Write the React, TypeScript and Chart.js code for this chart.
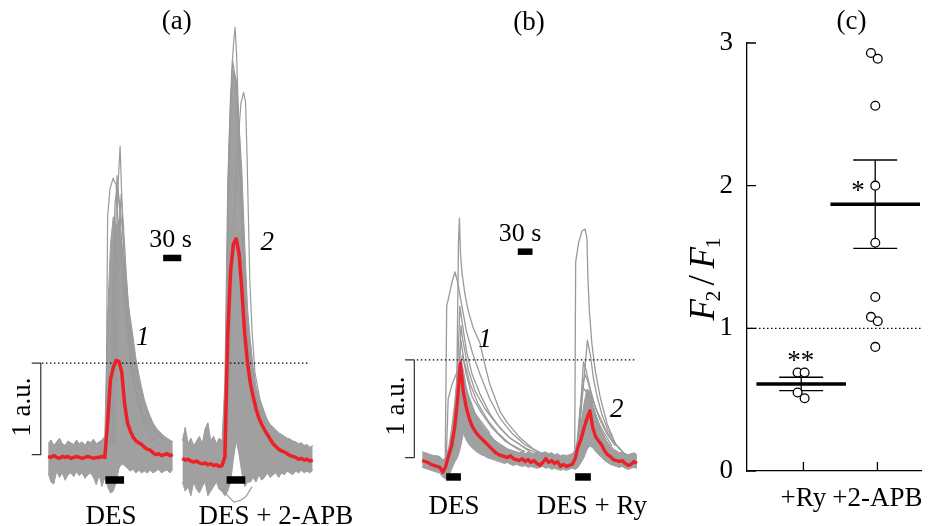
import { useEffect, useRef } from 'react';
import { Chart, registerables } from 'chart.js';

Chart.register(...registerables);

const SERIF = "'Liberation Serif', 'Times New Roman', serif";
const GRAY = '#9a9a9a';
const GRAY_FILL = '#a0a0a0';
const RED = '#ec2027';

// ---------------- Panel (a): time in s, signal in a.u. ----------------
const A_DT = 5;
const A1_T0 = 85;
const A2_T0 = 322;
const A1_RED = [-0.02, -0.03, -0.01, -0.03, -0.04, -0.02, -0.03, -0.02, -0.04, -0.03, -0.02, -0.03, -0.04, -0.03, -0.02, -0.03, -0.04, -0.03, -0.03, -0.02, -0.03,
  0.35, 0.82, 0.95, 1.03, 1.02, 0.9, 0.55, 0.35, 0.26, 0.19, 0.15, 0.13, 0.11, 0.08, 0.06, 0.05, 0.02, 0.0, 0.01, -0.01, 0.0, 0.01, -0.01, 0.0];
const A1_UP = [0.12, 0.16, 0.1, 0.14, 0.18, 0.12, 0.1, 0.15, 0.13, 0.11, 0.16, 0.12, 0.14, 0.1, 0.15, 0.13, 0.17, 0.12, 0.14, 0.16, 0.2,
  1.5, 2.3, 2.6, 2.5, 2.55, 2.3, 2.0, 1.7, 1.5, 1.28, 1.05, 0.88, 0.73, 0.6, 0.5, 0.42, 0.35, 0.3, 0.26, 0.23, 0.2, 0.18, 0.16, 0.14];
const A1_LO = [-0.2, -0.3, -0.32, -0.18, -0.25, -0.2, -0.28, -0.22, -0.2, -0.24, -0.19, -0.23, -0.2, -0.26, -0.22, -0.2, -0.25, -0.33, -0.22, -0.35, -0.25,
  -0.35, -0.42, -0.4, -0.3, -0.15, -0.1, -0.12, -0.15, -0.18, -0.16, -0.2, -0.17, -0.2, -0.18, -0.2, -0.17, -0.2, -0.18, -0.16, -0.2, -0.18, -0.17, -0.2, -0.16];
const A2_RED = [-0.04, -0.06, -0.05, -0.07, -0.08, -0.07, -0.09, -0.1, -0.09, -0.11, -0.1, -0.12, -0.11, -0.13, -0.12,
  -0.02, 1.3, 2.0, 2.3, 2.36, 2.2, 1.8, 1.32, 1.0, 0.78, 0.63, 0.5, 0.4, 0.33, 0.27, 0.22, 0.17, 0.12, 0.09, 0.06, 0.04, 0.03, 0.01, -0.01, -0.02, -0.03, -0.05, -0.04, -0.06, -0.05, -0.07, -0.06];
const A2_UP = [0.15, 0.3, 0.12, 0.18, 0.1, 0.15, 0.2, 0.12, 0.28, 0.35, 0.15, 0.2, 0.12, 0.18, 0.15,
  0.8, 3.0, 3.95, 4.2, 4.1, 3.6, 3.1, 2.3, 1.6, 1.25, 0.95, 0.75, 0.62, 0.53, 0.45, 0.38, 0.33, 0.3, 0.27, 0.24, 0.22, 0.2, 0.18, 0.17, 0.15, 0.14, 0.12, 0.13, 0.1, 0.11, 0.08, 0.1];
const A2_LO = [-0.3, -0.4, -0.35, -0.45, -0.3, -0.38, -0.42, -0.35, -0.3, -0.45, -0.4, -0.35, -0.3, -0.38, -0.4,
  -0.45, -0.4, -0.3, -0.05, 0.15, 0.0, -0.2, -0.35, -0.3, -0.3, -0.25, -0.3, -0.22, -0.28, -0.25, -0.2, -0.25, -0.22, -0.2, -0.25, -0.2, -0.22, -0.18, -0.2, -0.22, -0.18, -0.2, -0.17, -0.2, -0.18, -0.2, -0.17];
const A_SPIKES = [
  [[200, 0.1], [205, 2.0], [208, 2.9], [212, 3.37], [214.5, 2.9], [217, 2.4], [222, 1.8], [229.5, 1.2], [238, 0.75], [251, 0.4], [265, 0.2], [282, 0.1]],
  [[187, 0.1], [190, 2.6], [194, 2.9], [199.5, 3.02], [205, 2.95], [208, 2.6], [213.5, 2.2], [221, 1.6], [229.5, 1.0], [242, 0.6], [256, 0.35]],
  [[198, 0.1], [201, 1.6], [206.5, 3.05], [210, 2.8], [215.5, 2.5], [222, 2.0], [228, 1.5], [235, 1.1], [244, 0.8], [256, 0.5], [274, 0.25], [291, 0.15]],
  [[195, 0.1], [199, 1.8], [203, 2.75], [207, 2.95], [211, 2.7], [216, 2.2], [221, 1.7], [227, 1.25], [236, 0.8], [248, 0.45]],
  [[203, 0.1], [207, 1.4], [211, 2.55], [214, 2.85], [218, 2.5], [223, 1.95], [230, 1.35], [240, 0.85], [252, 0.45], [268, 0.25]],
  [[395, -0.1], [401, 2.0], [404, 3.3], [409, 4.2], [413, 4.55], [415, 4.67], [417.5, 4.4], [420, 3.9], [424, 3.3], [429, 2.4], [434, 1.6], [441, 1.05], [452, 0.6], [468, 0.33]],
  [[401, -0.1], [406, 1.2], [413, 2.6], [420, 3.4], [425.5, 3.85], [430, 3.96], [433.5, 3.85], [436, 3.3], [438.5, 2.6], [441, 1.9], [445, 1.35], [450, 0.9], [459, 0.6], [473, 0.35]],
  [[397, -0.1], [402.5, 2.5], [408, 3.9], [411, 4.3], [416, 4.1], [420, 3.5], [425.5, 2.8], [431, 2.0], [438, 1.3], [447, 0.85]],
  [[392, -0.38], [402.5, -0.45], [413, -0.52], [424, -0.5], [434, -0.46], [445, -0.35]],
];
const A_DES = [[186, 219], [400, 433]];
const A_SCALEBAR = [288, 320];
const A_DOTTED = [74, 544];
const A_BRACKET = [[56, 1], [72, 1], [72, 0], [56, 0]];

// ---------------- Panel (b) ----------------
const B_DT = 6;
const B_T0 = 86;
const B_RED = [-0.03, -0.04, -0.05, -0.07, -0.08, -0.09, -0.1, -0.15, -0.09, 0.02,
  0.12, 0.3, 0.58, 0.97, 0.67, 0.51, 0.4, 0.32, 0.27, 0.23,
  0.2, 0.17, 0.14, 0.11, 0.08, 0.05, 0.03, 0.02, 0.01, 0.0,
  0.02, -0.01, -0.02, -0.03, -0.01, -0.04, -0.02, -0.05, -0.03, -0.06,
  -0.08, -0.05, -0.01, -0.05, -0.03, -0.06, -0.04, -0.09, -0.07, -0.09,
  -0.08, -0.07, -0.01, 0.11, 0.19, 0.3, 0.4, 0.48, 0.3, 0.21,
  0.17, 0.13, 0.07, 0.03, 0.01, -0.02, -0.03, -0.04, -0.03, -0.06,
  -0.08, -0.07, -0.04, -0.06];
const B_UP = [0.06, 0.05, 0.04, 0.03, 0.02, 0.02, 0.01, -0.02, 0.0,
  0.1, 0.3, 0.55, 0.85, 1.0, 0.9, 0.72, 0.6, 0.52, 0.46, 0.4, 0.35, 0.31, 0.27, 0.24, 0.2, 0.17, 0.15, 0.13, 0.11, 0.09, 0.08, 0.07,
  0.06, 0.05, 0.07, 0.04, 0.06, 0.05, 0.04, 0.06, 0.03, 0.05, 0.06, 0.04, 0.05, 0.03, 0.04, 0.02, 0.03, 0.02, 0.03, 0.04,
  0.08, 0.2, 0.35, 0.55, 0.7, 0.68, 0.55, 0.45, 0.36, 0.28, 0.21, 0.16, 0.12, 0.09, 0.07, 0.05, 0.06, 0.04, 0.03, 0.04, 0.05, 0.03];
const B_LO = [-0.1, -0.11, -0.12, -0.13, -0.14, -0.15, -0.16, -0.2, -0.22,
  -0.2, -0.12, -0.05, 0.0, 0.1, 0.25, 0.18, 0.13, 0.1, 0.07, 0.05, 0.03, 0.02, 0.0, -0.01, -0.02, -0.03, -0.04,
  -0.05, -0.06, -0.05, -0.07, -0.08, -0.07, -0.08, -0.09, -0.08, -0.1, -0.09, -0.1, -0.11, -0.1, -0.09, -0.11, -0.1, -0.12, -0.11, -0.12, -0.13, -0.12, -0.13, -0.12, -0.11,
  -0.12, -0.1, -0.05, 0.0, 0.08, 0.12, 0.1, 0.06, 0.03, 0.0, -0.03, -0.05, -0.07, -0.08, -0.09, -0.1, -0.09, -0.11, -0.12, -0.11, -0.1, -0.11];
const B_TRACES = [
  [[133, -0.05], [136, 1.55], [141, 1.66], [147, 1.8], [153, 1.9], [159, 1.78], [167, 1.55], [176, 1.3], [188, 1.08], [204, 0.85], [224, 0.6], [245, 0.4], [269, 0.25], [296, 0.13], [327, 0.05], [357, 0.0]],
  [[153, 0.2], [157, 0.9], [160, 2.2], [162, 2.45], [164, 2.1], [167, 1.9], [173, 1.68], [180, 1.5], [190, 1.33], [204, 1.17], [214, 0.95], [224, 0.75], [245, 0.47], [259, 0.36], [286, 0.2], [312, 0.09], [337, 0.02]],
  [[149, 0.1], [159, 1.0], [163, 1.55], [167, 1.4], [176, 1.1], [188, 0.85], [204, 0.65], [224, 0.45], [245, 0.3], [265, 0.2], [296, 0.1], [327, 0.03]],
  [[153, 0.2], [161, 0.9], [165, 1.2], [171, 1.0], [184, 0.75], [200, 0.55], [220, 0.38], [241, 0.25], [265, 0.14], [296, 0.06]],
  [[157, 0.3], [163, 0.8], [168, 1.05], [176, 0.85], [188, 0.62], [208, 0.45], [229, 0.3], [255, 0.17], [286, 0.07]],
  [[159, 0.4], [165, 1.35], [169, 1.2], [180, 0.9], [194, 0.68], [214, 0.5], [235, 0.36], [265, 0.2], [306, 0.06]],
  [[135, -0.05], [139, 0.6], [147, 0.75], [155, 0.85], [163, 0.95], [176, 0.7], [194, 0.45], [224, 0.25]],
  [[397, -0.05], [399, 2.0], [405, 2.2], [412, 2.32], [418, 2.34], [422, 2.25], [424, 1.84], [427, 1.5], [432, 1.17], [439, 0.89], [449, 0.62], [463, 0.35], [480, 0.14], [500, 0.03]],
  [[404, 0.1], [414, 0.7], [423, 1.2], [429, 1.05], [435, 0.82], [443, 0.62], [452, 0.45], [465, 0.28], [482, 0.13], [500, 0.03]],
  [[402, 0.1], [410, 0.6], [415, 0.98], [420, 0.9], [429, 0.7], [439, 0.52], [449, 0.38], [463, 0.24], [480, 0.12]],
  [[404, 0.15], [412, 0.7], [418, 0.85], [424, 0.78], [433, 0.6], [445, 0.45], [459, 0.3], [473, 0.18], [490, 0.08]],
  [[401, 0.1], [408, 0.5], [414, 0.72], [422, 0.66], [433, 0.5], [443, 0.38], [457, 0.25], [473, 0.12]],
];
const B_DES = [[135, 165], [398, 430]];
const B_SCALEBAR = [281, 311];
const B_DOTTED = [75, 523];
const B_BRACKET = [[51, 1], [70, 1], [70, 0], [51, 0]];

// ---------------- Panel (c) ----------------
const C_GROUPS = ['+Ry', '+2-APB'];
const C_RY = [0.69, 0.69, 0.55, 0.51];
const C_APB = [2.93, 2.89, 2.56, 2.0, 1.6, 1.22, 1.08, 1.05, 0.87];
const C_MEANS = [0.61, 1.87];
const C_SEMS = [0.047, 0.31];
const C_Y_TICKS = [0, 1, 2, 3];
// horizontal jitter of the individual points (group units)
const C_RY_JIT = [-0.079, 0.016, -0.079, 0.016];
const C_APB_JIT = [-0.0875, 0.004, -0.029, -0.029, -0.029, -0.029, -0.0875, 0.004, -0.029];

type P = { x: number; y: number };
const grid = (t0: number, dt: number, vals: number[]): P[] => vals.map((y, i) => ({ x: t0 + i * dt, y }));
const pairs = (p: number[][]): P[] => p.map(([x, y]) => ({ x, y }));

function line(data: P[], color: string, width: number, order: number, extra: any = {}) {
  return {
    type: 'line', data, borderColor: color, backgroundColor: color, borderWidth: width,
    pointRadius: 0, pointHoverRadius: 0, tension: 0, fill: false, order,
    borderJoinStyle: 'round', ...extra,
  };
}
function band(t0: number, dt: number, up: number[], lo: number[]) {
  return [
    line(grid(t0, dt, up), GRAY, 1, 3, { fill: '+1', backgroundColor: GRAY_FILL }),
    line(grid(t0, dt, lo), GRAY, 1, 3),
  ];
}
const hbar = (span: number[], y: number, w: number) =>
  line([{ x: span[0], y }, { x: span[1], y }], '#000', w, 1, { borderCapStyle: 'butt' });

interface Txt { text: string; x: number; y: number; size?: number; italic?: boolean; rotate?: boolean }
function textPlugin(items: Txt[]) {
  return {
    id: 'txt',
    afterDraw(chart: any) {
      const { ctx } = chart;
      const xs = chart.scales.x, ys = chart.scales.y;
      for (const it of items) {
        ctx.save();
        ctx.translate(xs.getPixelForValue(it.x), ys.getPixelForValue(it.y));
        if (it.rotate) ctx.rotate(-Math.PI / 2);
        ctx.font = `${it.italic ? 'italic ' : ''}${it.size ?? 27}px ${SERIF}`;
        ctx.fillStyle = '#000';
        ctx.textAlign = 'center';
        ctx.textBaseline = 'alphabetic';
        ctx.fillText(it.text, 0, 0);
        ctx.restore();
      }
    },
  };
}

function traceOptions(tMax: number, yMin: number, yMax: number) {
  return {
    animation: false, responsive: false, events: [],
    layout: { padding: 0 },
    scales: {
      x: { type: 'linear', display: false, min: 0, max: tMax },
      y: { type: 'linear', display: false, min: yMin, max: yMax },
    },
    plugins: { legend: { display: false }, tooltip: { enabled: false } },
  };
}

function makeA(canvas: HTMLCanvasElement) {
  const datasets: any[] = [
    line(grid(A1_T0, A_DT, A1_RED), RED, 3.5, 0),
    line(grid(A2_T0, A_DT, A2_RED), RED, 3.5, 0),
    ...A_DES.map((s) => hbar(s, -0.277, 7.5)),
    hbar(A_SCALEBAR, 2.15, 6.5),
    line([{ x: A_DOTTED[0], y: 1 }, { x: A_DOTTED[1], y: 1 }], '#000', 1.2, 1, { borderDash: [1.5, 2.5] }),
    line(pairs(A_BRACKET), '#333', 1.2, 1),
    ...A_SPIKES.map((s) => line(pairs(s), GRAY, 1.2, 2)),
    ...band(A1_T0, A_DT, A1_UP, A1_LO),
    ...band(A2_T0, A_DT, A2_UP, A2_LO),
  ];
  const texts: Txt[] = [
    { text: '(a)', x: 312, y: 4.648 },
    { text: '30 s', x: 301, y: 2.273, size: 26 },
    { text: '1', x: 252, y: 1.2, italic: true },
    { text: '2', x: 472, y: 2.237, italic: true },
    { text: 'DES', x: 196, y: -0.758 },
    { text: 'DES + 2-APB', x: 487, y: -0.758 },
    { text: '1 a.u.', x: 53, y: 0.52, rotate: true },
  ];
  return new Chart(canvas, {
    type: 'line', data: { datasets }, options: traceOptions(662, -0.78, 4.97) as any,
    plugins: [textPlugin(texts)],
  } as any);
}

function makeB(canvas: HTMLCanvasElement) {
  const datasets: any[] = [
    line(grid(B_T0, B_DT, B_RED), RED, 3.3, 0),
    ...B_DES.map((s) => hbar(s, -0.198, 7.5)),
    hbar(B_SCALEBAR, 2.108, 6.5),
    line([{ x: B_DOTTED[0], y: 1 }, { x: B_DOTTED[1], y: 1 }], '#000', 1.2, 1, { borderDash: [1.5, 2.5] }),
    line(pairs(B_BRACKET), '#333', 1.2, 1),
    ...B_TRACES.map((s) => line(pairs(s), GRAY, 1.3, 2)),
    ...band(B_T0, B_DT, B_UP, B_LO),
  ];
  const texts: Txt[] = [
    { text: '(b)', x: 304, y: 4.382 },
    { text: '30 s', x: 285.5, y: 2.22, size: 26 },
    { text: '1', x: 214, y: 1.132, italic: true },
    { text: '2', x: 483, y: 0.419, italic: true },
    { text: 'DES', x: 151, y: -0.577 },
    { text: 'DES + Ry', x: 432, y: -0.577 },
    { text: '1 a.u.', x: 49, y: 0.528, rotate: true },
  ];
  return new Chart(canvas, {
    type: 'line', data: { datasets }, options: traceOptions(571, -0.7, 4.684) as any,
    plugins: [textPlugin(texts)],
  } as any);
}

function makeC(canvas: HTMLCanvasElement) {
  const X_MIN = 0.2375, X_MAX = 2.6;
  const CENTER_SHIFT = -0.03, MEAN_HALF = 0.605, CAP_HALF = 0.297;
  const summary: any[] = [];
  C_MEANS.forEach((m, i) => {
    const cx = i + 1 + CENTER_SHIFT;
    const s = C_SEMS[i];
    summary.push(line([{ x: cx - MEAN_HALF, y: m }, { x: cx + MEAN_HALF, y: m }], '#000', 3.5, 1, { borderCapStyle: 'butt' }));
    summary.push(line([{ x: cx, y: m - s }, { x: cx, y: m + s }], '#000', 1.3, 1));
    summary.push(line([{ x: cx - CAP_HALF, y: m + s }, { x: cx + CAP_HALF, y: m + s }], '#000', 1.3, 1));
    summary.push(line([{ x: cx - CAP_HALF, y: m - s }, { x: cx + CAP_HALF, y: m - s }], '#000', 1.3, 1));
  });
  const pts = (vals: number[], jit: number[], g: number) => vals.map((y, i) => ({ x: g + jit[i], y }));
  const circles = {
    type: 'line', showLine: false, order: 0,
    data: [...pts(C_RY, C_RY_JIT, 1), ...pts(C_APB, C_APB_JIT, 2)],
    pointRadius: 4.4, pointHoverRadius: 4.4, pointBorderWidth: 1.3,
    pointBackgroundColor: '#fff', pointBorderColor: '#000',
  };
  const datasets: any[] = [
    circles,
    ...summary,
    line([{ x: X_MIN, y: 1 }, { x: X_MAX, y: 1 }], '#000', 1.2, 2, { borderDash: [1.5, 2.5] }),
  ];
  const texts: Txt[] = [
    { text: '(c)', x: 1.65, y: 3.095 },
    { text: '**', x: 0.9625, y: 0.712 },
    { text: '*', x: 1.7375, y: 1.909 },
  ];
  const axisDeco = {
    id: 'axisDeco',
    afterDraw(chart: any) {
      const { ctx, chartArea } = chart;
      const xs = chart.scales.x, ys = chart.scales.y;
      ctx.save();
      ctx.strokeStyle = '#000';
      ctx.lineWidth = 1.3;
      ctx.beginPath();
      C_Y_TICKS.forEach((v) => {
        const y = ys.getPixelForValue(v);
        ctx.moveTo(chartArea.left, y); ctx.lineTo(chartArea.left + 9, y);
      });
      C_GROUPS.forEach((_, i) => {
        const x = xs.getPixelForValue(i + 1);
        ctx.moveTo(x, chartArea.bottom); ctx.lineTo(x, chartArea.bottom - 9);
      });
      ctx.stroke();
      // y axis title F2/F1
      ctx.translate(chartArea.left - 33, ys.getPixelForValue(1.35));
      ctx.rotate(-Math.PI / 2);
      ctx.fillStyle = '#000';
      ctx.textBaseline = 'alphabetic';
      ctx.textAlign = 'left';
      const parts = [
        { t: 'F', f: `italic 35px ${SERIF}`, pos: 0, dy: 0 },
        { t: '2', f: `22px ${SERIF}`, pos: 19, dy: 6 },
        { t: '/', f: `38px ${SERIF}`, pos: 35, dy: 0 },
        { t: 'F', f: `italic 35px ${SERIF}`, pos: 52, dy: 0 },
        { t: '1', f: `22px ${SERIF}`, pos: 72, dy: 6 },
      ];
      const total = 84;
      parts.forEach((p) => {
        ctx.font = p.f;
        ctx.fillText(p.t, p.pos - total / 2, p.dy);
      });
      ctx.restore();
    },
  };
  const font = { family: SERIF, size: 27 };
  return new Chart(canvas, {
    type: 'line',
    data: { datasets },
    options: {
      animation: false, responsive: false, events: [],
      layout: { padding: { top: 43, left: 0, right: 0, bottom: 0 } },
      scales: {
        x: {
          type: 'linear', min: X_MIN, max: X_MAX,
          afterFit: (s: any) => { s.height = 55; },
          afterBuildTicks: (s: any) => { s.ticks = C_GROUPS.map((_, i) => ({ value: i + 1 })); },
          ticks: { callback: (_v: any, i: number) => C_GROUPS[i], font, color: '#000', padding: 12, maxRotation: 0, autoSkip: false },
          grid: { display: false, drawTicks: false },
          border: { display: true, color: '#000', width: 1.3 },
        },
        y: {
          type: 'linear', min: 0, max: 3,
          afterFit: (s: any) => { s.width = 87; },
          afterBuildTicks: (s: any) => { s.ticks = C_Y_TICKS.map((v) => ({ value: v })); },
          ticks: { font, color: '#000', padding: 14 },
          grid: { display: false, drawTicks: false },
          border: { display: true, color: '#000', width: 1.3 },
        },
      },
      plugins: { legend: { display: false }, tooltip: { enabled: false } },
    },
    plugins: [textPlugin(texts), axisDeco],
  } as any);
}

export default function App() {
  const aRef = useRef<HTMLCanvasElement>(null);
  const bRef = useRef<HTMLCanvasElement>(null);
  const cRef = useRef<HTMLCanvasElement>(null);
  useEffect(() => {
    const charts = [makeA(aRef.current!), makeB(bRef.current!), makeC(cRef.current!)];
    return () => charts.forEach((c) => c.destroy());
  }, []);
  return (
    <div style={{ position: 'absolute', left: 0, top: 0, width: 936, height: 526, background: '#fff', overflow: 'hidden' }}>
      <canvas ref={aRef} width={375} height={526} style={{ position: 'absolute', left: 0, top: 0 }} />
      <canvas ref={bRef} width={280} height={526} style={{ position: 'absolute', left: 380, top: 0 }} />
      <canvas ref={cRef} width={276} height={526} style={{ position: 'absolute', left: 660, top: 0 }} />
    </div>
  );
}
